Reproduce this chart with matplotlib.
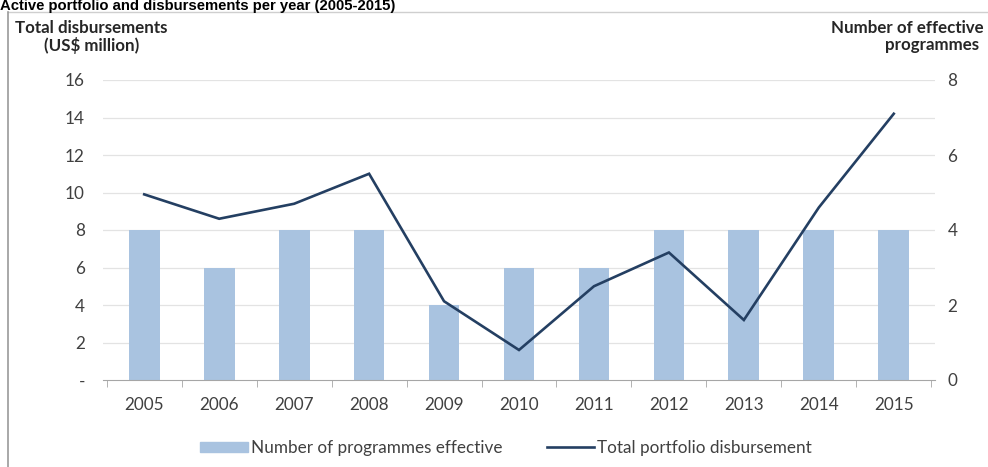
import matplotlib
matplotlib.use("Agg")
import matplotlib.pyplot as plt
from matplotlib.lines import Line2D

years = ["2005", "2006", "2007", "2008", "2009", "2010",
         "2011", "2012", "2013", "2014", "2015"]
programmes = [4, 3, 4, 4, 2, 3, 3, 4, 4, 4, 4]
disbursement = [9.9, 8.6, 9.4, 11.0, 4.2, 1.6, 5.0, 6.8, 3.2, 9.2, 14.2]

left_ticks = [0, 2, 4, 6, 8, 10, 12, 14, 16]
left_labels = ["-", "2", "4", "6", "8", "10", "12", "14", "16"]
right_ticks = [0, 2, 4, 6, 8]

bar_col = "#A9C3E0"
line_col = "#243F62"
txt_col = "#404040"
W, H = 988, 467
fs = 12.3

fig = plt.figure(figsize=(W / 100, H / 100), dpi=100)
fig.patch.set_facecolor("white")

def fx(px):
    return px / W

def fy(py):
    return 1 - py / H

# main axes: bars on the right scale, line on the left scale
ax = fig.add_axes([fx(103), fy(380), fx(935) - fx(103), fy(80) - fy(380)])
ax2 = ax.twinx()
x = list(range(len(years)))

ax2.bar(x, programmes, width=0.41, color=bar_col, zorder=2)
ax2.set_ylim(0, 8)
ax2.set_yticks(right_ticks)
ax2.set_yticklabels([str(t) for t in right_ticks])

ax.set_zorder(ax2.get_zorder() + 1)
ax.patch.set_visible(False)
ax.plot(x, disbursement, color=line_col, lw=1.9, zorder=3, solid_joinstyle="miter")
ax.set_ylim(0, 16)
ax.set_yticks(left_ticks)
ax.set_yticklabels(left_labels)
ax.set_xlim(-0.55, 10.55)
ax.set_xticks(x)
ax.set_xticklabels(years)
ax.set_xticks([i + 0.5 for i in range(-1, len(years))], minor=True)

for t in left_ticks[1:]:
    ax2.axhline(t / 2, color="#E3E3E3", lw=0.9, zorder=1)

for a in (ax, ax2):
    for s in a.spines.values():
        s.set_visible(False)
    a.tick_params(axis="y", length=0, colors=txt_col, labelsize=fs)
    for lab in a.get_yticklabels():
        lab.set_family("Lato")
ax.spines["bottom"].set_visible(True)
ax.spines["bottom"].set_color("#A6A6A6")
ax.tick_params(axis="y", pad=13)
ax2.tick_params(axis="y", pad=9)
ax.tick_params(axis="x", which="major", length=0, pad=12, labelsize=fs, colors=txt_col)
ax.tick_params(axis="x", which="minor", length=5, color="#A6A6A6", direction="out")
for lab in ax.get_xticklabels():
    lab.set_family("Lato")

# axis headers
hdr = dict(family="Lato", weight="bold", fontsize=12.2, color="#262626", va="center")
fig.text(fx(15), fy(28), "Total disbursements", **hdr)
fig.text(fx(92), fy(45), "(US$ million)", ha="center", **hdr)
fig.text(fx(984), fy(28), "Number of effective", ha="right", **hdr)
fig.text(fx(932), fy(45), "programmes", ha="center", **hdr)

# chart title, clipped at the top edge
fig.text(0, fy(10), "Active portfolio and disbursements per year (2005-2015)",
         family="Liberation Sans", weight="bold", fontsize=10.7, va="baseline")

# frame lines
fig.add_artist(Line2D([fx(8), 1], [fy(12), fy(12)], color="#CFCFCF", lw=1))
fig.add_artist(Line2D([fx(8), fx(8)], [fy(12), 0], color="#9A9A9A", lw=1.2))

handles = [plt.Rectangle((0, 0), 1, 1, color=bar_col),
           Line2D([0], [0], color=line_col, lw=1.9)]
fig.legend(handles, ["Number of programmes effective", "Total portfolio disbursement"],
           loc="center", bbox_to_anchor=(fx(506), fy(448)), ncol=2, frameon=False,
           prop={"family": "Lato", "size": fs}, handlelength=2.8, handleheight=0.55,
           handletextpad=0.15, columnspacing=2.6, labelcolor=txt_col)

fig.savefig("out.png", dpi=100)
